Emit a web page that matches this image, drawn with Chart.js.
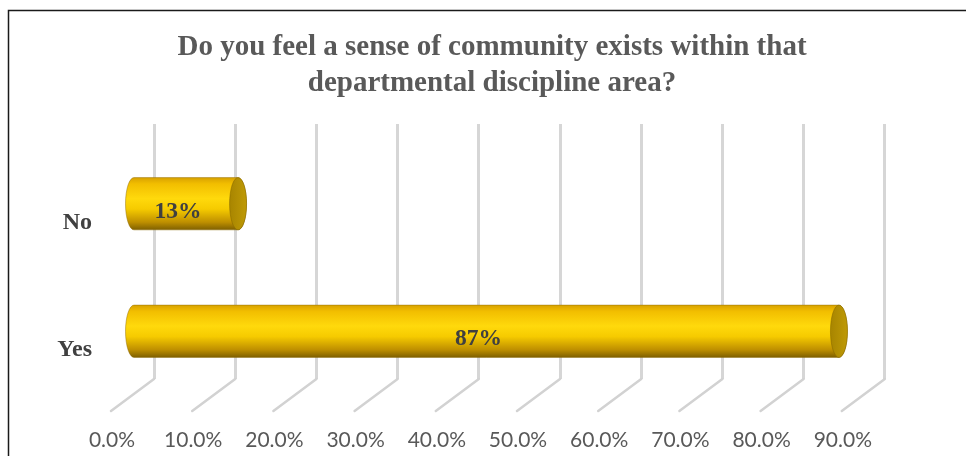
<!DOCTYPE html>
<html lang="en">
<head>
<meta charset="UTF-8">
<title>Sense of community</title>
<script src="https://cdn.jsdelivr.net/npm/chart.js"></script>
<style>
    body { margin: 0; background: #fff; }
    #wrap { width: 966px; height: 456px; position: relative; }
</style>
</head>
<body>
<div id="wrap"><canvas id="chart"></canvas></div>
<script>
    // data
    const categories = ['No', 'Yes'];
    const percents = [13, 87];
    const valueLabels = ['13%', '87%'];
    const titleLines = ['Do you feel a sense of community exists within that', 'departmental discipline area?'];

    // 3D look: bars sit half way into the floor, front edge of floor is at (-43, +32)
    const DEPTH_X = -43, DEPTH_Y = 32;

    const floorPlugin = {
        id: 'floor',
        beforeDatasetsDraw(chart) {
            const ctx = chart.ctx, xs = chart.scales.x, bottom = chart.chartArea.bottom;
            ctx.save();
            ctx.strokeStyle = '#d2d2d2';
            ctx.lineWidth = 2.5;
            ctx.lineCap = 'round';
            xs.ticks.forEach(t => {
                if (t.value > 90) return;
                const px = xs.getPixelForValue(t.value);
                ctx.beginPath();
                ctx.moveTo(px, bottom);
                ctx.lineTo(px + DEPTH_X, bottom + DEPTH_Y);
                ctx.stroke();
            });
            ctx.restore();
        }
    };

    const cylinderPlugin = {
        id: 'cylinders',
        afterDatasetsDraw(chart) {
            const ctx = chart.ctx;
            const meta = chart.getDatasetMeta(0);
            const dx = DEPTH_X / 2, dy = DEPTH_Y / 2;
            meta.data.forEach((bar, i) => {
                const p = bar.getProps(['x', 'y', 'base', 'height'], true);
                const x0 = p.base + dx, x1 = p.x + dx, cy = p.y + dy;
                const ry = p.height / 2, rx = 8.5;
                const top = cy - ry, bot = cy + ry;

                const g = ctx.createLinearGradient(0, top, 0, bot);
                g.addColorStop(0, '#d8a200');
                g.addColorStop(0.12, '#f2be00');
                g.addColorStop(0.4, '#ffd90c');
                g.addColorStop(0.6, '#f6cb00');
                g.addColorStop(0.85, '#bf9000');
                g.addColorStop(1, '#7f6000');

                ctx.save();
                ctx.beginPath();
                ctx.moveTo(x1, top);
                ctx.lineTo(x0, top);
                ctx.ellipse(x0, cy, rx, ry, 0, -Math.PI / 2, Math.PI / 2, true);
                ctx.lineTo(x1, bot);
                ctx.ellipse(x1, cy, rx, ry, 0, Math.PI / 2, -Math.PI / 2, true);
                ctx.closePath();
                ctx.fillStyle = g;
                ctx.fill();
                ctx.strokeStyle = 'rgba(140,105,0,0.45)';
                ctx.lineWidth = 1;
                ctx.stroke();

                // end cap
                const cg = ctx.createLinearGradient(x1 - rx, 0, x1 + rx, 0);
                cg.addColorStop(0, '#a88500');
                cg.addColorStop(1, '#bf9a06');
                ctx.beginPath();
                ctx.ellipse(x1, cy, rx, ry, 0, 0, Math.PI * 2);
                ctx.fillStyle = cg;
                ctx.fill();
                ctx.strokeStyle = 'rgba(130,100,0,0.5)';
                ctx.stroke();

                // value label
                ctx.fillStyle = '#404040';
                ctx.font = 'bold 23.5px "Liberation Serif"';
                ctx.textAlign = 'center';
                ctx.textBaseline = 'middle';
                ctx.fillText(valueLabels[i], (x0 + x1) / 2 - 8, cy + 8);
                ctx.restore();
            });
        }
    };

    const framePlugin = {
        id: 'frame',
        afterDraw(chart) {
            const ctx = chart.ctx;
            ctx.save();
            ctx.strokeStyle = '#1a1a1a';
            ctx.lineWidth = 1.5;
            ctx.beginPath();
            ctx.moveTo(8.5, 456);
            ctx.lineTo(8.5, 10.5);
            ctx.lineTo(966, 10.5);
            ctx.stroke();
            ctx.restore();
        }
    };

    new Chart(document.getElementById('chart'), {
        type: 'bar',
        data: {
            labels: categories,
            datasets: [{
                data: percents,
                backgroundColor: 'rgba(0,0,0,0)',
                borderWidth: 0,
                categoryPercentage: 1,
                barPercentage: 0.41
            }]
        },
        options: {
            indexAxis: 'y',
            responsive: true,
            maintainAspectRatio: false,
            animation: false,
            layout: { padding: { left: 18, right: 0, top: 0, bottom: 0 } },
            plugins: {
                legend: { display: false },
                tooltip: { enabled: false },
                title: {
                    display: true,
                    text: titleLines,
                    color: '#595959',
                    font: { family: 'Liberation Serif', size: 29, weight: 'bold', lineHeight: 1.241 },
                    padding: { top: 30, bottom: 22 }
                }
            },
            scales: {
                x: {
                    min: 0,
                    max: 100,
                    afterFit(s) { s.height = 77; s.paddingRight = 0; s.paddingLeft = 0; },
                    border: { display: false },
                    grid: {
                        drawTicks: false,
                        lineWidth: 3,
                        color: c => (c.tick && c.tick.value > 90) ? 'rgba(0,0,0,0)' : '#d6d6d6'
                    },
                    ticks: {
                        stepSize: 10,
                        padding: 49,
                        labelOffset: -42,
                        maxRotation: 0,
                        color: '#595959',
                        font: { family: 'Lato', size: 21 },
                        callback: v => v > 90 ? '' : v.toFixed(1) + '%'
                    }
                },
                y: {
                    afterFit(s) { s.width = 136; },
                    border: { display: false },
                    grid: { display: false, drawTicks: false },
                    ticks: {
                        padding: 62,
                        labelOffset: 35,
                        color: '#404040',
                        font: { family: 'Liberation Serif', size: 24, weight: 'bold' }
                    }
                }
            }
        },
        plugins: [floorPlugin, cylinderPlugin, framePlugin]
    });
</script>
</body>
</html>
